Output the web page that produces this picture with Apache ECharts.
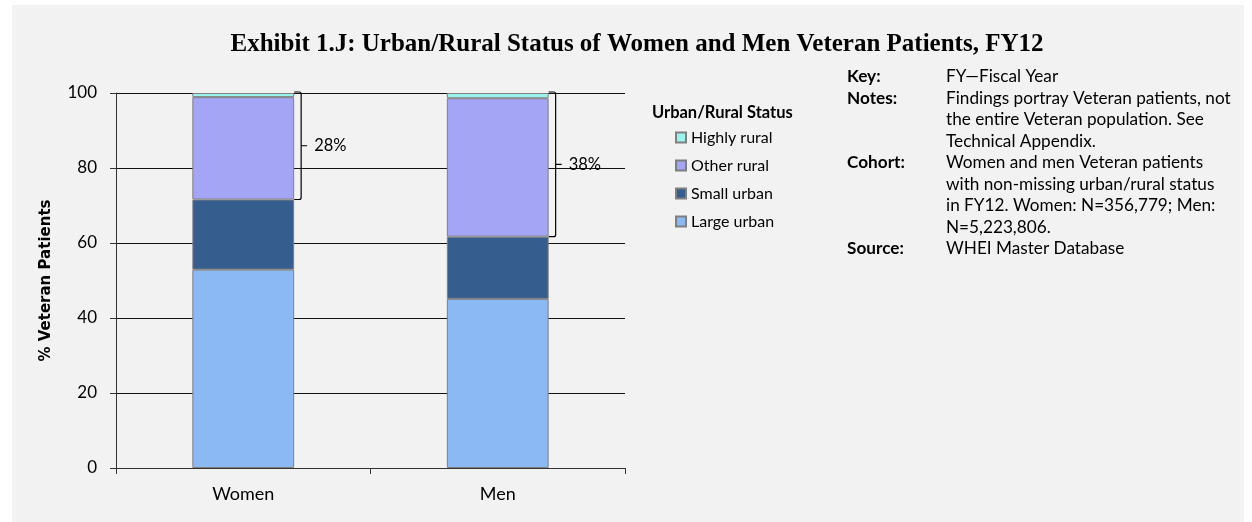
<!DOCTYPE html>
<html>
<head>
<meta charset="utf-8">
<script src="https://cdn.jsdelivr.net/npm/echarts@6/dist/echarts.min.js"></script>
<style>
  html, body { margin: 0; padding: 0; background: #ffffff; }
  #chart { position: absolute; left: 12px; top: 5px; width: 1232px; height: 517px; background: #F2F2F2; }
</style>
</head>
<body>
<div id="chart"></div>
<script>
const categories = ['Women', 'Men']
const largeUrban = [52.9, 45.1]
const smallUrban = [18.7, 16.6]
const otherRural = [27.3, 36.9]
const highlyRural = [1.1, 1.4]
const yTicks = [0, 20, 40, 60, 80, 100]

const noteLabels = ['Key:', 'Notes:', 'Cohort:', 'Source:']
const noteTexts = [
  ['FY\u2014Fiscal Year'],
  ['Findings portray Veteran patients, not', 'the entire Veteran population. See', 'Technical Appendix.'],
  ['Women and men Veteran patients', 'with non-missing urban/rural status', 'in FY12. Women: N=356,779; Men:', 'N=5,223,806.'],
  ['WHEI Master Database']
]

const FONT = 'Lato'
const colors = {
  large: '#8AB9F3',
  small: '#355E8F',
  other: '#A5A5F5',
  highly: '#9BF3EE'
}

// rural bracket: from top of small urban to 100
const braceData = categories.map((c, i) => [i, largeUrban[i] + smallUrban[i], 100])
const braceLabels = categories.map((c, i) => Math.round(otherRural[i] + highlyRural[i]) + '%')

// notes panel as graphic text
const notes = []
let line = 0
const lineH = 21.5
noteLabels.forEach((lab, i) => {
  notes.push({
    type: 'text', left: 835, top: 63 + line * lineH,
    style: { text: lab, font: `bold 17.2px ${FONT}`, fill: '#000' }
  })
  noteTexts[i].forEach(t => {
    notes.push({
      type: 'text', left: 934, top: 63 + line * lineH,
      style: { text: t, font: `17.2px ${FONT}`, fill: '#000' }
    })
    line++
  })
})

const chart = echarts.init(document.getElementById('chart'), null, { renderer: 'canvas' })

function barSeries(name, data, color) {
  return {
    name, type: 'bar', stack: 'total', data, barWidth: '40%',
    itemStyle: { color, borderColor: '#7F7F7F', borderWidth: 1 },
    z: 3
  }
}

chart.setOption({
  animation: false,
  backgroundColor: 'transparent',
  title: [
    {
      text: 'Exhibit 1.J: Urban/Rural Status of Women and Men Veteran Patients, FY12',
      left: 620, top: 22, textAlign: 'center',
      textStyle: { fontFamily: 'Liberation Serif', fontWeight: 'bold', fontSize: 25, color: '#000' }
    },
    {
      text: 'Urban/Rural Status',
      left: 635, top: 94,
      textStyle: { fontFamily: FONT, fontWeight: 'bold', fontSize: 16.5, color: '#000' }
    }
  ],
  legend: {
    orient: 'vertical',
    left: 658, top: 119,
    itemWidth: 10, itemHeight: 10, itemGap: 11,
    icon: 'rect',
    data: ['Highly rural', 'Other rural', 'Small urban', 'Large urban'],
    textStyle: { fontFamily: FONT, fontSize: 16, color: '#000', lineHeight: 17 }
  },
  grid: { left: 104, right: 619, top: 88, bottom: 54 },
  xAxis: {
    type: 'category',
    data: categories,
    axisLine: { lineStyle: { color: '#333', width: 1 } },
    axisTick: { show: true, length: 6, lineStyle: { color: '#333' } },
    axisLabel: { fontFamily: FONT, fontSize: 18, color: '#000', margin: 17 }
  },
  yAxis: {
    type: 'value',
    min: 0, max: 100, interval: 20,
    name: '% Veteran Patients',
    nameLocation: 'middle',
    nameGap: 62,
    nameTextStyle: { fontFamily: 'DejaVu Sans', fontWeight: 'bold', fontSize: 15, color: '#000' },
    axisLine: { show: true, lineStyle: { color: '#333', width: 1 } },
    axisTick: { show: true, length: 6, lineStyle: { color: '#333' } },
    axisLabel: {
      fontFamily: FONT, fontSize: 17, color: '#000', margin: 19,
      formatter: v => yTicks.includes(v) ? String(v) : ''
    },
    splitLine: { show: true, lineStyle: { color: '#111', width: 1 } }
  },
  graphic: notes,
  series: [
    barSeries('Large urban', largeUrban, colors.large),
    barSeries('Small urban', smallUrban, colors.small),
    barSeries('Other rural', otherRural, colors.other),
    barSeries('Highly rural', highlyRural, colors.highly),
    {
      type: 'custom',
      data: braceData,
      z: 5,
      renderItem: (params, api) => {
        const idx = api.value(0)
        const lo = api.coord([idx, api.value(1)])
        const hi = api.coord([idx, api.value(2)])
        const band = api.size([1, 0])[0]
        const xR = lo[0] + band * 0.2
        const yTop = hi[1] - 1
        const yBot = lo[1]
        const yMid = (yTop + yBot) / 2
        const v = xR + 7
        const path = `M${xR} ${yTop} L${v - 2} ${yTop} Q${v} ${yTop} ${v} ${yTop + 2} ` +
          `L${v} ${yBot - 2} Q${v} ${yBot} ${v - 2} ${yBot} L${xR} ${yBot} ` +
          `M${v} ${yMid} L${v + 6} ${yMid}`
        return {
          type: 'group',
          children: [
            { type: 'path', shape: { pathData: path }, style: { stroke: '#000', lineWidth: 1.2, fill: null } },
            {
              type: 'text',
              style: {
                text: braceLabels[params.dataIndex], x: xR + 20, y: yMid,
                font: `16.5px ${FONT}`, fill: '#000', verticalAlign: 'middle', align: 'left'
              }
            }
          ]
        }
      }
    }
  ]
})
</script>
</body>
</html>
